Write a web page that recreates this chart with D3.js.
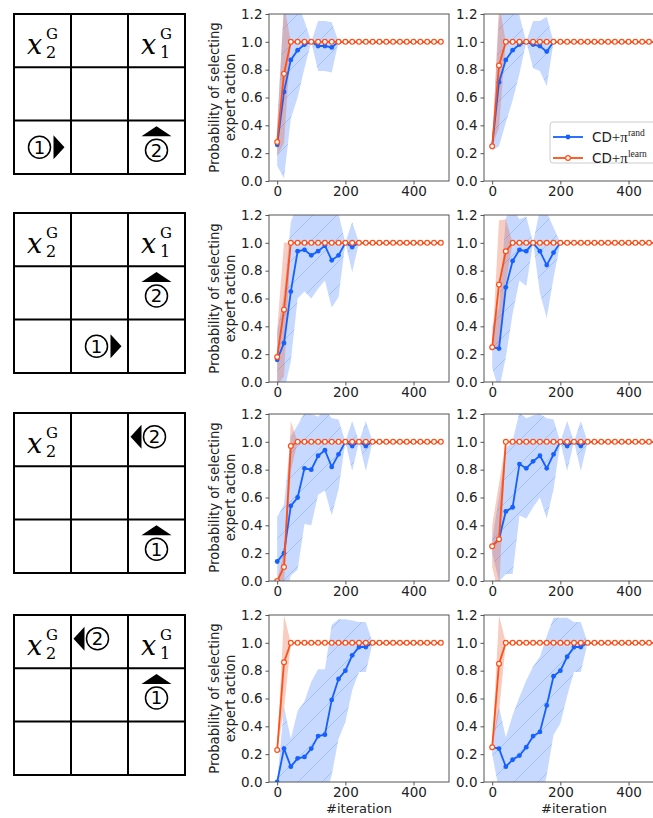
<!DOCTYPE html>
<html>
<head>
<meta charset="utf-8">
<script src="https://cdn.jsdelivr.net/npm/d3@7/dist/d3.min.js"></script>
<style>
body { margin: 0; background: #fff; }
svg { display: block; }
.tick text { font-family: "DejaVu Sans", sans-serif; font-size: 13.5px; fill: #222; }
.tick line { stroke: #555; }
</style>
</head>
<body>
<svg id="fig" width="653" height="818"></svg>
<script>
// x values shared by every run
var iterations = [0,20,40,60,80,100,120,140,160,180,200,220,240,260,280,300,320,340,360,380,400,420,440,460,480];
var yTicks = [0, 0.2, 0.4, 0.6, 0.8, 1.0, 1.2];
var xTicks = [0, 200, 400];
var legendNames = ["rand", "learn"];

// row 1, left
var randMeanA  = [0.26,0.64,0.87,0.94,0.98,1.00,0.97,0.97,0.96,1.00,1.00,1.00,1.00,1.00,1.00,1.00,1.00,1.00,1.00,1.00,1.00,1.00,1.00,1.00,1.00];
var randSdA    = [0.15,0.62,0.42,0.34,0.17,0.00,0.18,0.18,0.18,0.00,0.00,0.00,0.00,0.00,0.00,0.00,0.00,0.00,0.00,0.00,0.00,0.00,0.00,0.00,0.00];
var learnMeanA = [0.28,0.77,1.00,1.00,1.00,1.00,1.00,1.00,1.00,1.00,1.00,1.00,1.00,1.00,1.00,1.00,1.00,1.00,1.00,1.00,1.00,1.00,1.00,1.00,1.00];
var learnSdA   = [0.10,0.50,0.00,0.00,0.00,0.00,0.00,0.00,0.00,0.00,0.00,0.00,0.00,0.00,0.00,0.00,0.00,0.00,0.00,0.00,0.00,0.00,0.00,0.00,0.00];
// row 1, right
var randMeanB  = [0.25,0.71,0.87,0.94,0.98,1.00,0.98,0.97,0.93,1.00,1.00,1.00,1.00,1.00,1.00,1.00,1.00,1.00,1.00,1.00,1.00,1.00,1.00,1.00,1.00];
var randSdB    = [0.03,0.46,0.45,0.36,0.21,0.00,0.17,0.18,0.25,0.00,0.00,0.00,0.00,0.00,0.00,0.00,0.00,0.00,0.00,0.00,0.00,0.00,0.00,0.00,0.00];
var learnMeanB = [0.25,0.83,1.00,1.00,1.00,1.00,1.00,1.00,1.00,1.00,1.00,1.00,1.00,1.00,1.00,1.00,1.00,1.00,1.00,1.00,1.00,1.00,1.00,1.00,1.00];
var learnSdB   = [0.00,0.45,0.00,0.00,0.00,0.00,0.00,0.00,0.00,0.00,0.00,0.00,0.00,0.00,0.00,0.00,0.00,0.00,0.00,0.00,0.00,0.00,0.00,0.00,0.00];
// row 2, left
var randMeanC  = [0.16,0.28,0.65,0.94,0.95,0.91,0.94,0.98,0.875,0.91,1.00,0.97,1.00,1.00,1.00,1.00,1.00,1.00,1.00,1.00,1.00,1.00,1.00,1.00,1.00];
var randSdC    = [0.20,0.35,0.50,0.34,0.30,0.31,0.27,0.25,0.34,0.30,0.00,0.18,0.00,0.00,0.00,0.00,0.00,0.00,0.00,0.00,0.00,0.00,0.00,0.00,0.00];
var learnMeanC = [0.18,0.52,1.00,1.00,1.00,1.00,1.00,1.00,1.00,1.00,1.00,1.00,1.00,1.00,1.00,1.00,1.00,1.00,1.00,1.00,1.00,1.00,1.00,1.00,1.00];
var learnSdC   = [0.20,0.48,0.00,0.00,0.00,0.00,0.00,0.00,0.00,0.00,0.00,0.00,0.00,0.00,0.00,0.00,0.00,0.00,0.00,0.00,0.00,0.00,0.00,0.00,0.00];
// row 2, right
var randMeanD  = [0.25,0.24,0.68,0.87,0.95,0.94,1.00,0.94,0.84,0.93,1.00,1.00,1.00,1.00,1.00,1.00,1.00,1.00,1.00,1.00,1.00,1.00,1.00,1.00,1.00];
var randSdD    = [0.15,0.30,0.50,0.38,0.22,0.25,0.00,0.30,0.38,0.18,0.00,0.00,0.00,0.00,0.00,0.00,0.00,0.00,0.00,0.00,0.00,0.00,0.00,0.00,0.00];
var learnMeanD = [0.25,0.70,0.94,1.00,1.00,1.00,1.00,1.00,1.00,1.00,1.00,1.00,1.00,1.00,1.00,1.00,1.00,1.00,1.00,1.00,1.00,1.00,1.00,1.00,1.00];
var learnSdD   = [0.00,0.46,0.23,0.00,0.00,0.00,0.00,0.00,0.00,0.00,0.00,0.00,0.00,0.00,0.00,0.00,0.00,0.00,0.00,0.00,0.00,0.00,0.00,0.00,0.00];
// row 3, left
var randMeanE  = [0.14,0.20,0.54,0.60,0.81,0.80,0.90,0.94,0.82,0.91,1.00,0.97,1.00,0.97,1.00,1.00,1.00,1.00,1.00,1.00,1.00,1.00,1.00,1.00,1.00];
var randSdE    = [0.32,0.35,0.50,0.52,0.40,0.40,0.28,0.29,0.35,0.25,0.00,0.18,0.00,0.18,0.00,0.00,0.00,0.00,0.00,0.00,0.00,0.00,0.00,0.00,0.00];
var learnMeanE = [0.00,0.10,0.97,1.00,1.00,1.00,1.00,1.00,1.00,1.00,1.00,1.00,1.00,1.00,1.00,1.00,1.00,1.00,1.00,1.00,1.00,1.00,1.00,1.00,1.00];
var learnSdE   = [0.00,0.12,0.18,0.00,0.00,0.00,0.00,0.00,0.00,0.00,0.00,0.00,0.00,0.00,0.00,0.00,0.00,0.00,0.00,0.00,0.00,0.00,0.00,0.00,0.00];
// row 3, right
var randMeanF  = [0.25,0.30,0.50,0.53,0.84,0.81,0.86,0.90,0.81,0.91,1.00,0.97,1.00,0.97,1.00,1.00,1.00,1.00,1.00,1.00,1.00,1.00,1.00,1.00,1.00];
var randSdF    = [0.05,0.30,0.45,0.48,0.37,0.36,0.33,0.30,0.36,0.25,0.00,0.18,0.00,0.18,0.00,0.00,0.00,0.00,0.00,0.00,0.00,0.00,0.00,0.00,0.00];
var learnMeanF = [0.25,0.30,1.00,1.00,1.00,1.00,1.00,1.00,1.00,1.00,1.00,1.00,1.00,1.00,1.00,1.00,1.00,1.00,1.00,1.00,1.00,1.00,1.00,1.00,1.00];
var learnSdF   = [0.15,0.40,0.00,0.00,0.00,0.00,0.00,0.00,0.00,0.00,0.00,0.00,0.00,0.00,0.00,0.00,0.00,0.00,0.00,0.00,0.00,0.00,0.00,0.00,0.00];
// row 4, left
var randMeanG  = [0.00,0.24,0.11,0.17,0.18,0.24,0.33,0.34,0.59,0.74,0.80,0.91,0.97,0.97,1.00,1.00,1.00,1.00,1.00,1.00,1.00,1.00,1.00,1.00,1.00];
var randSdG    = [0.00,0.30,0.20,0.34,0.40,0.48,0.48,0.47,0.54,0.43,0.37,0.25,0.18,0.18,0.00,0.00,0.00,0.00,0.00,0.00,0.00,0.00,0.00,0.00,0.00];
var learnMeanG = [0.23,0.86,1.00,1.00,1.00,1.00,1.00,1.00,1.00,1.00,1.00,1.00,1.00,1.00,1.00,1.00,1.00,1.00,1.00,1.00,1.00,1.00,1.00,1.00,1.00];
var learnSdG   = [0.00,0.34,0.00,0.00,0.00,0.00,0.00,0.00,0.00,0.00,0.00,0.00,0.00,0.00,0.00,0.00,0.00,0.00,0.00,0.00,0.00,0.00,0.00,0.00,0.00];
// row 4, right
var randMeanH  = [0.25,0.24,0.11,0.16,0.19,0.25,0.33,0.36,0.55,0.76,0.80,0.90,0.97,0.97,1.00,1.00,1.00,1.00,1.00,1.00,1.00,1.00,1.00,1.00,1.00];
var randSdH    = [0.05,0.30,0.21,0.32,0.42,0.48,0.50,0.54,0.50,0.42,0.38,0.28,0.18,0.18,0.00,0.00,0.00,0.00,0.00,0.00,0.00,0.00,0.00,0.00,0.00];
var learnMeanH = [0.25,0.85,1.00,1.00,1.00,1.00,1.00,1.00,1.00,1.00,1.00,1.00,1.00,1.00,1.00,1.00,1.00,1.00,1.00,1.00,1.00,1.00,1.00,1.00,1.00];
var learnSdH   = [0.00,0.35,0.00,0.00,0.00,0.00,0.00,0.00,0.00,0.00,0.00,0.00,0.00,0.00,0.00,0.00,0.00,0.00,0.00,0.00,0.00,0.00,0.00,0.00,0.00];

// grid world scenes: goals [row, col, index] and agents
var gridGoals = [
  [[0,0,"2"],[0,2,"1"]],
  [[0,0,"2"],[0,2,"1"]],
  [[0,0,"2"]],
  [[0,0,"2"],[0,2,"1"]]
];
var gridAgents = [
  [{n:"1", r:2, c:0, dir:"right"}, {n:"2", r:2, c:2, dir:"up"}],
  [{n:"2", r:1, c:2, dir:"up"},    {n:"1", r:2, c:1, dir:"right"}],
  [{n:"2", r:0, c:2, dir:"left"},  {n:"1", r:2, c:2, dir:"up"}],
  [{n:"2", r:0, c:1, dir:"left"},  {n:"1", r:1, c:2, dir:"up"}]
];

var panels = [
  {row:0, col:0, randMean:randMeanA, randSd:randSdA, learnMean:learnMeanA, learnSd:learnSdA},
  {row:0, col:1, randMean:randMeanB, randSd:randSdB, learnMean:learnMeanB, learnSd:learnSdB},
  {row:1, col:0, randMean:randMeanC, randSd:randSdC, learnMean:learnMeanC, learnSd:learnSdC},
  {row:1, col:1, randMean:randMeanD, randSd:randSdD, learnMean:learnMeanD, learnSd:learnSdD},
  {row:2, col:0, randMean:randMeanE, randSd:randSdE, learnMean:learnMeanE, learnSd:learnSdE},
  {row:2, col:1, randMean:randMeanF, randSd:randSdF, learnMean:learnMeanF, learnSd:learnSdF},
  {row:3, col:0, randMean:randMeanG, randSd:randSdG, learnMean:learnMeanG, learnSd:learnSdG},
  {row:3, col:1, randMean:randMeanH, randSd:randSdH, learnMean:learnMeanH, learnSd:learnSdH}
];

// layout
var rowTop = [14, 215, 414, 615];
var gridTop = [14, 213, 413, 615];
var colLeft = [269, 484];
var plotW = 180, plotH = 167;
var blue = "#1560ff", orange = "#ff4f14";

var svg = d3.select("#fig");
var defs = svg.append("defs");

// hatch for the blue band
defs.append("pattern")
  .attr("id", "hatch")
  .attr("patternUnits", "userSpaceOnUse")
  .attr("width", 24).attr("height", 24)
  .append("path")
  .attr("d", "M-6,6 L6,-6 M0,24 L24,0 M18,30 L30,18")
  .attr("stroke", "rgba(21,96,255,0.2)")
  .attr("stroke-width", 1);

drawGrids();
drawPanels();
drawLegend();

function drawGrids(){
  var left = 14, cw = 57, ch = 53.3;
  gridTop.forEach(function(top, k){
    var g = svg.append("g");
    g.selectAll("line.v").data([0,1,2,3]).enter().append("line")
      .attr("x1", function(i){ return left + i*cw; })
      .attr("x2", function(i){ return left + i*cw; })
      .attr("y1", top - 1).attr("y2", top + 3*ch + 1)
      .attr("stroke", "#000").attr("stroke-width", 2);
    g.selectAll("line.h").data([0,1,2,3]).enter().append("line")
      .attr("y1", function(i){ return top + i*ch; })
      .attr("y2", function(i){ return top + i*ch; })
      .attr("x1", left - 1).attr("x2", left + 3*cw + 1)
      .attr("stroke", "#000").attr("stroke-width", 2);

    // goal labels x_i^G
    gridGoals[k].forEach(function(gl){
      var cx0 = left + gl[1]*cw, cy0 = top + gl[0]*ch;
      g.append("text").attr("x", cx0 + 13).attr("y", cy0 + 40)
        .attr("font-family", "DejaVu Serif").attr("font-style", "italic")
        .attr("font-size", 27).text("x");
      g.append("text").attr("x", cx0 + 32).attr("y", cy0 + 25)
        .attr("font-family", "DejaVu Serif").attr("font-size", 15).text("G");
      g.append("text").attr("x", cx0 + 32).attr("y", cy0 + 44)
        .attr("font-family", "DejaVu Serif").attr("font-size", 16).text(gl[2]);
    });

    // agents: circled number plus heading arrow
    gridAgents[k].forEach(function(a){
      var mx = left + (a.c + 0.5)*cw, my = top + (a.r + 0.5)*ch;
      var cx, cy, tri;
      if (a.dir == "up") {
        cx = mx; cy = my + 3;
        tri = [[cx-15, cy-14], [cx+15, cy-14], [cx, cy-24]];
      } else if (a.dir == "right") {
        cx = mx - 3; cy = my;
        tri = [[cx+14, cy-12], [cx+14, cy+12], [cx+25, cy]];
      } else {
        cx = mx - 2; cy = my - 3;
        tri = [[cx-13, cy-12], [cx-13, cy+12], [cx-24, cy]];
      }
      g.append("circle").attr("cx", cx).attr("cy", cy).attr("r", 11)
        .attr("fill", "none").attr("stroke", "#000").attr("stroke-width", 1.5);
      g.append("text").attr("x", cx).attr("y", cy + 6.5)
        .attr("text-anchor", "middle")
        .attr("font-family", "DejaVu Sans").attr("font-size", 18)
        .text(a.n);
      g.append("path").attr("d", "M" + tri.join("L") + "Z").attr("fill", "#000");
    });
  });
}

function drawPanels(){
  panels.forEach(function(p){
    var left = colLeft[p.col], top = rowTop[p.row];
    var x = d3.scaleLinear().domain([-24, 504]).range([left, left + plotW]);
    var y = d3.scaleLinear().domain([0, 1.2]).range([top + plotH, top]);
    var id = "clip" + p.row + p.col;
    defs.append("clipPath").attr("id", id).append("rect")
      .attr("x", left).attr("y", top).attr("width", plotW).attr("height", plotH);

    var rand = iterations.map(function(it, i){ return {it: it, m: p.randMean[i], s: p.randSd[i]}; });
    var learn = iterations.map(function(it, i){ return {it: it, m: p.learnMean[i], s: p.learnSd[i]}; });

    var area = d3.area()
      .x(function(d){ return x(d.it); })
      .y0(function(d){ return y(d.m - d.s); })
      .y1(function(d){ return y(d.m + d.s); });
    var line = d3.line()
      .x(function(d){ return x(d.it); })
      .y(function(d){ return y(d.m); });

    var g = svg.append("g");
    var plot = g.append("g").attr("clip-path", "url(#" + id + ")");

    plot.append("path").datum(rand).attr("d", area).attr("fill", "rgba(21,96,255,0.24)");
    plot.append("path").datum(rand).attr("d", area).attr("fill", "url(#hatch)");
    plot.append("path").datum(learn).attr("d", area).attr("fill", "rgba(230,90,50,0.3)");

    plot.append("path").datum(rand).attr("d", line)
      .attr("fill", "none").attr("stroke", blue).attr("stroke-width", 1.8);
    plot.selectAll("circle.r").data(rand).enter().append("circle")
      .attr("cx", function(d){ return x(d.it); })
      .attr("cy", function(d){ return y(d.m); })
      .attr("r", 2.4).attr("fill", blue);

    plot.append("path").datum(learn).attr("d", line)
      .attr("fill", "none").attr("stroke", orange).attr("stroke-width", 1.8);
    plot.selectAll("circle.l").data(learn).enter().append("circle")
      .attr("cx", function(d){ return x(d.it); })
      .attr("cy", function(d){ return y(d.m); })
      .attr("r", 2.4).attr("fill", "#fff")
      .attr("stroke", orange).attr("stroke-width", 1.2);

    // axes
    var ya = g.append("g").attr("transform", "translate(" + left + ",0)")
      .call(d3.axisLeft(y).tickValues(yTicks).tickFormat(d3.format(".1f")).tickSize(3.5).tickPadding(3));
    ya.select(".domain").remove();
    var xa = g.append("g").attr("transform", "translate(0," + (top + plotH) + ")")
      .call(d3.axisBottom(x).tickValues(xTicks).tickFormat(d3.format("d")).tickSize(3.5).tickPadding(2));
    xa.select(".domain").remove();

    g.append("rect").attr("x", left).attr("y", top)
      .attr("width", plotW).attr("height", plotH)
      .attr("fill", "none").attr("stroke", "#555").attr("stroke-width", 1);

    var cy = top + plotH/2;
    if (p.col == 0) {
      g.append("text").attr("transform", "translate(" + (left - 50) + "," + cy + ") rotate(-90)")
        .attr("text-anchor", "middle").attr("font-family", "DejaVu Sans")
        .attr("font-size", 13.2).attr("fill", "#222").text("Probability of selecting");
      g.append("text").attr("transform", "translate(" + (left - 34) + "," + cy + ") rotate(-90)")
        .attr("text-anchor", "middle").attr("font-family", "DejaVu Sans")
        .attr("font-size", 13.2).attr("fill", "#222").text("expert action");
    }
    if (p.row == 3) {
      g.append("text").attr("x", left + plotW/2).attr("y", 813)
        .attr("text-anchor", "middle").attr("font-family", "DejaVu Sans")
        .attr("font-size", 13).attr("fill", "#222").text("#iteration");
    }
  });
}

function drawLegend(){
  var lg = svg.append("g").attr("transform", "translate(550,122)");
  lg.append("rect").attr("width", 112).attr("height", 41).attr("rx", 3)
    .attr("fill", "#fff").attr("fill-opacity", 0.8)
    .attr("stroke", "#ccc").attr("stroke-width", 1);
  legendNames.forEach(function(name, i){
    var yy = 15 + i*21;
    var col = i == 0 ? blue : orange;
    lg.append("line").attr("x1", 3).attr("x2", 33).attr("y1", yy).attr("y2", yy)
      .attr("stroke", col).attr("stroke-width", 1.8);
    lg.append("circle").attr("cx", 18).attr("cy", yy)
      .attr("r", 2.4)
      .attr("fill", i == 0 ? blue : "#fff")
      .attr("stroke", i == 0 ? "none" : orange).attr("stroke-width", 1.2);
    var t = lg.append("text").attr("x", 42).attr("y", yy + 5)
      .attr("font-family", "DejaVu Sans").attr("font-size", 13.5).attr("fill", "#222");
    t.append("tspan").text("CD");
    t.append("tspan").attr("font-family", "Liberation Serif").attr("font-size", 15).text("+π");
    t.append("tspan").attr("font-family", "Liberation Serif").attr("font-size", 9.5)
      .attr("dy", -6).text(name);
  });
}
</script>
</body>
</html>
